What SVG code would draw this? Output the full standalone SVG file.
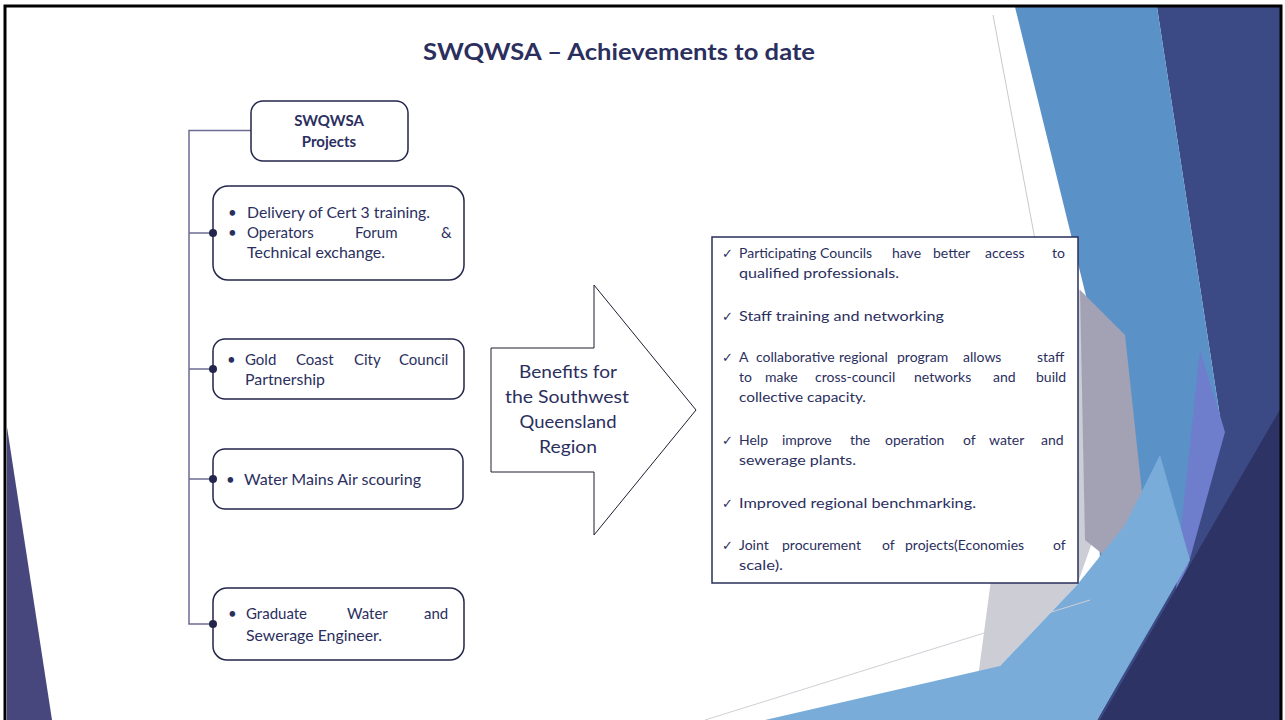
<svg xmlns="http://www.w3.org/2000/svg" width="1285" height="720" viewBox="0 0 1285 720">
<style>
.t{font-family:Lato,"Liberation Sans",sans-serif;fill:#2b2f5e}
.b{font-size:15px}
.r{font-size:14px}
.box{fill:#fff;stroke:#23264a;stroke-width:1.5}
.conn{fill:none;stroke:#6c6c92;stroke-width:1.5}
.dot{fill:#23264a}
.chk{font-family:"DejaVu Sans",sans-serif;font-size:13px;fill:#2b2f5e}
</style>
<rect x="0" y="0" width="1285" height="720" fill="#fff"/>
<g id="decor">
<polygon points="7,427 52,720 7,720" fill="#47477d"/>
<polygon points="1157,7 1282,7 1282,720 1097,720 1187,560 1222,430" fill="#3b4a85"/>
<polygon points="1015,7 1157,7 1222,430 1187,560 1150,610 1100,560 1087,300" fill="#5a92c8"/>
<polygon points="1035,250 1085,295 1100,520 1077,585 1000,666 975,700" fill="#cdcdd6"/>
<polygon points="1080,290 1125,335 1145,520 1110,560 1085,540" fill="#a2a2b4"/>
<polygon points="1200,350 1225,432 1188,566 1176,590 1182,520" fill="#6e7dcc"/>
<polygon points="765,720 1000,666 1077,585 1125,525 1160,455 1190,560 1097,720" fill="#79acd9"/>
<polygon points="1282,406 1282,720 1100,720" fill="#2d3364"/>
<line x1="993" y1="15" x2="1080" y2="480" stroke="#c8c8d0" stroke-width="1"/>
<line x1="705" y1="720" x2="1090" y2="600" stroke="#cfcfd6" stroke-width="1"/>
</g>
<polyline points="5,720 5,6 1281,6 1281,720" fill="none" stroke="#000" stroke-width="3"/>
<text class="t" x="423" y="60" font-size="23" font-weight="bold" textLength="392" lengthAdjust="spacingAndGlyphs" fill="#262a52">SWQWSA – Achievements to date</text>
<g id="connectors">
<polyline class="conn" points="251,130.5 189,130.5 189,624 213,624"/>
<line class="conn" x1="189" y1="233" x2="213" y2="233"/>
<line class="conn" x1="189" y1="369" x2="213" y2="369"/>
<line class="conn" x1="189" y1="479" x2="213" y2="479"/>
</g>
<g id="node-projects">
<rect class="box" x="251" y="101" width="157" height="60" rx="12"/>
<text class="t" x="329" y="126" font-size="15" font-weight="bold" text-anchor="middle">SWQWSA</text>
<text class="t" x="329" y="147" font-size="15" font-weight="bold" text-anchor="middle">Projects</text>
</g>
<g id="node-cert3">
<rect class="box" x="213" y="186" width="251" height="94" rx="15"/>
<circle class="dot" cx="213" cy="233" r="4"/>
<text class="t b" x="228" y="218">•</text>
<text class="t b" x="247" y="218" textLength="183" lengthAdjust="spacingAndGlyphs">Delivery of Cert 3 training.</text>
<text class="t b" x="228" y="238">•</text>
<text class="t b" y="238"><tspan x="247">Operators</tspan> <tspan x="355">Forum</tspan> <tspan x="441">&amp;</tspan></text>
<text class="t b" x="247" y="258" textLength="138" lengthAdjust="spacingAndGlyphs">Technical exchange.</text>
</g>
<g id="node-goldcoast">
<rect class="box" x="213" y="339" width="251" height="60" rx="12"/>
<circle class="dot" cx="213" cy="369" r="4"/>
<text class="t b" x="227" y="365">•</text>
<text class="t b" y="365"><tspan x="245">Gold</tspan> <tspan x="296">Coast</tspan> <tspan x="354">City</tspan> <tspan x="399">Council</tspan></text>
<text class="t b" x="245" y="385" textLength="80" lengthAdjust="spacingAndGlyphs">Partnership</text>
</g>
<g id="node-watermains">
<rect class="box" x="213" y="449" width="250" height="60" rx="12"/>
<circle class="dot" cx="213" cy="479" r="4"/>
<text class="t b" x="226" y="485">•</text>
<text class="t b" x="244" y="485" textLength="177" lengthAdjust="spacingAndGlyphs">Water Mains Air scouring</text>
</g>
<g id="node-graduate">
<rect class="box" x="213" y="588" width="251" height="72" rx="14"/>
<circle class="dot" cx="213" cy="624" r="4"/>
<text class="t b" x="228" y="619">•</text>
<text class="t b" y="619"><tspan x="246">Graduate</tspan> <tspan x="347">Water</tspan> <tspan x="424">and</tspan></text>
<text class="t b" x="246" y="641" textLength="136" lengthAdjust="spacingAndGlyphs">Sewerage Engineer.</text>
</g>
<g id="node-arrow">
<polygon points="491,348 594,348 594,285 696,410 594,535 594,472 491,472" fill="#fff" stroke="#1e1e30" stroke-width="1"/>
<text class="t" font-size="18" text-anchor="middle" x="568" y="378" textLength="98" lengthAdjust="spacingAndGlyphs">Benefits for</text>
<text class="t" font-size="18" text-anchor="middle" x="567" y="403" textLength="124" lengthAdjust="spacingAndGlyphs">the Southwest</text>
<text class="t" font-size="18" text-anchor="middle" x="568" y="428" textLength="97" lengthAdjust="spacingAndGlyphs">Queensland</text>
<text class="t" font-size="18" text-anchor="middle" x="568" y="453" textLength="58" lengthAdjust="spacingAndGlyphs">Region</text>
</g>
<g id="node-benefits">
<rect x="712" y="237" width="366" height="346" fill="#fff" stroke="#2a2f5a" stroke-width="1.5"/>
<text class="chk" x="722" y="258">✓</text>
<text class="t r" y="258"><tspan x="739">Participating</tspan> <tspan x="820">Councils</tspan> <tspan x="892">have</tspan> <tspan x="933">better</tspan> <tspan x="985">access</tspan> <tspan x="1052">to</tspan></text>
<text class="t r" x="739" y="278" textLength="160" lengthAdjust="spacingAndGlyphs">qualified professionals.</text>
<text class="chk" x="722" y="321">✓</text>
<text class="t r" x="739" y="321" textLength="205" lengthAdjust="spacingAndGlyphs">Staff training and networking</text>
<text class="chk" x="722" y="362">✓</text>
<text class="t r" y="362"><tspan x="739">A</tspan> <tspan x="756">collaborative</tspan> <tspan x="839">regional</tspan> <tspan x="897">program</tspan> <tspan x="963">allows</tspan> <tspan x="1037">staff</tspan></text>
<text class="t r" y="382"><tspan x="739">to</tspan> <tspan x="765">make</tspan> <tspan x="815">cross-council</tspan> <tspan x="914">networks</tspan> <tspan x="993">and</tspan> <tspan x="1036">build</tspan></text>
<text class="t r" x="739" y="402" textLength="127" lengthAdjust="spacingAndGlyphs">collective capacity.</text>
<text class="chk" x="722" y="445">✓</text>
<text class="t r" y="445"><tspan x="739">Help</tspan> <tspan x="782">improve</tspan> <tspan x="850">the</tspan> <tspan x="885">operation</tspan> <tspan x="963">of</tspan> <tspan x="989">water</tspan> <tspan x="1041">and</tspan></text>
<text class="t r" x="739" y="465" textLength="117" lengthAdjust="spacingAndGlyphs">sewerage plants.</text>
<text class="chk" x="722" y="508">✓</text>
<text class="t r" x="739" y="508" textLength="237" lengthAdjust="spacingAndGlyphs">Improved regional benchmarking.</text>
<text class="chk" x="722" y="550">✓</text>
<text class="t r" y="550"><tspan x="739">Joint</tspan> <tspan x="782">procurement</tspan> <tspan x="882">of</tspan> <tspan x="905">projects(Economies</tspan> <tspan x="1053">of</tspan></text>
<text class="t r" x="739" y="570" textLength="44" lengthAdjust="spacingAndGlyphs">scale).</text>
</g>
</svg>
